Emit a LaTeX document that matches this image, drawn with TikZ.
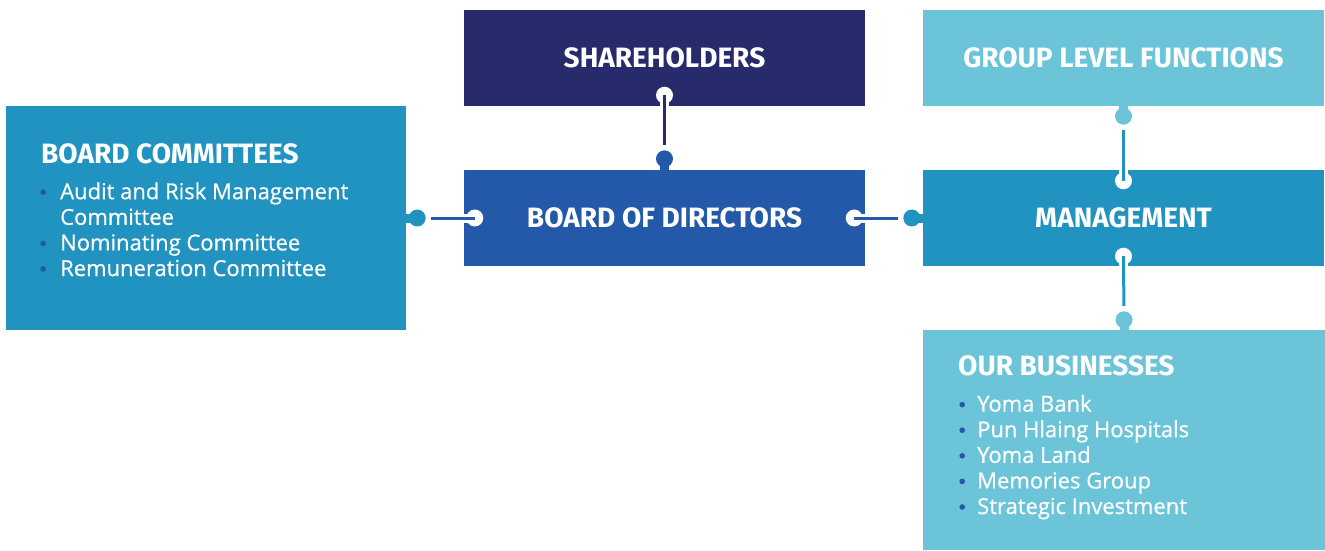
\documentclass[tikz,border=0pt]{standalone}
\usepackage{fontspec}
\setmainfont{Open Sans}[UprightFeatures={FakeBold=0.6}]
\newfontfamily\headfont{Fira Sans}
\usetikzlibrary{positioning}

\definecolor{navy}{HTML}{272A6B}
\definecolor{boardblue}{HTML}{2458A8}
\definecolor{midblue}{HTML}{2193C0}
\definecolor{lightblue}{HTML}{6CC4D9}

\newcommand{\bul}[1]{\makebox[#1][l]{\hspace*{1.2pt}\tikz[baseline=-7pt]\fill[boardblue] (0,0) circle (2.8pt);}}

\tikzset{
  box/.style={rectangle, minimum width=401pt, minimum height=96pt, inner sep=0pt, text=white,
    font=\headfont\bfseries\fontsize{28}{30}\selectfont},
  title/.style={inner sep=0pt, text=white, font=\headfont\bfseries\fontsize{28}{30}\selectfont},
  list/.style={inner sep=0pt, text=white, align=left, font=\fontsize{22}{25.6}\selectfont},
  neck/.style={line width=9pt},
  link/.style={line width=3pt, shorten >=14pt},
}

\begin{document}
\begin{tikzpicture}[x=1pt, y=-1pt]
\useasboundingbox (0,0) rectangle (1325,550);

% boxes
\node [box, fill=navy] (SH) at (664.5, 58) {SHAREHOLDERS};
\node [box, fill=boardblue] (BD) at (664.5, 218) {BOARD OF DIRECTORS};
\node [box, fill=lightblue] (GF) at (1123.5, 58) {GROUP LEVEL FUNCTIONS};
\node [box, fill=midblue] (MG) at (1123.5, 218) {MANAGEMENT};
\node [box, fill=midblue, minimum width=400pt, minimum height=224pt] (BC) at (206, 218) {};
\node [box, fill=lightblue, minimum width=402pt, minimum height=220pt] (OB) at (1124, 440) {};

% texts of the two large boxes (base = last line)
\node [title, anchor=base west] (BC-title) at (41, 163) {BOARD COMMITTEES};
\node [list, anchor=base west] (BC-list) at (39, 276) {\bul{21pt}Audit and Risk Management\\
  \hspace*{21pt}Committee\\ \bul{21pt}Nominating Committee\\ \bul{21pt}Remuneration Committee};
\node [title, anchor=base west] (OB-title) at (958, 375) {OUR BUSINESSES};
\node [list, anchor=base west] (OB-list) at (958, 514) {\bul{19pt}Yoma Bank\\ \bul{19pt}Pun Hlaing Hospitals\\
  \bul{19pt}Yoma Land\\ \bul{19pt}Memories Group\\ \bul{19pt}Strategic Investment};

% holes and tabs
\coordinate (SH-hole) at ([yshift=11pt]SH.south);
\coordinate (BD-tab) at ([yshift=11pt]BD.north);
\coordinate (BD-lhole) at ([xshift=11pt]BD.west);
\coordinate (BC-tab) at ([xshift=11pt]BC.east);
\coordinate (BD-rhole) at ([xshift=-11pt]BD.east);
\coordinate (MG-ltab) at ([xshift=-11pt]MG.west);
\coordinate (GF-tab) at ([yshift=-10pt]GF.south);
\coordinate (MG-thole) at ([yshift=-11pt]MG.north);
\coordinate (MG-bhole) at ([yshift=10pt]MG.south);
\coordinate (OB-tab) at ([yshift=10pt]OB.north);

\draw [neck, white] (SH-hole) -- (SH.south);
\fill [white] (SH-hole) circle (8.5pt);
\draw [neck, boardblue] (BD-tab) -- (BD.north);
\fill [boardblue] (BD-tab) circle (8.5pt);

\draw [neck, white] (BD-lhole) -- (BD.west);
\fill [white] (BD-lhole) circle (8.5pt);
\draw [neck, midblue] (BC-tab) -- (BC.east);
\fill [midblue] (BC-tab) circle (8.5pt);

\draw [neck, white] (BD-rhole) -- (BD.east);
\fill [white] (BD-rhole) circle (8.5pt);
\draw [neck, midblue] (MG-ltab) -- (MG.west);
\fill [midblue] (MG-ltab) circle (8.5pt);

\draw [neck, lightblue] (GF-tab) -- (GF.south);
\fill [lightblue] (GF-tab) circle (8.5pt);
\draw [neck, white] (MG-thole) -- (MG.north);
\fill [white] (MG-thole) circle (8.5pt);

\draw [neck, white] (MG-bhole) -- (MG.south);
\fill [white] (MG-bhole) circle (8.5pt);
\draw [neck, lightblue] (OB-tab) -- (OB.north);
\fill [lightblue] (OB-tab) circle (8.5pt);

% links
\draw [link, navy] (SH-hole) -- (BD-tab);
\draw [link, boardblue] (BD-lhole) -- (BC-tab);
\draw [link, boardblue] (BD-rhole) -- (MG-ltab);
\draw [link, midblue] (MG-thole) -- (GF-tab);
\draw [link, midblue] (MG-bhole) -- (OB-tab);

\end{tikzpicture}
\end{document}
